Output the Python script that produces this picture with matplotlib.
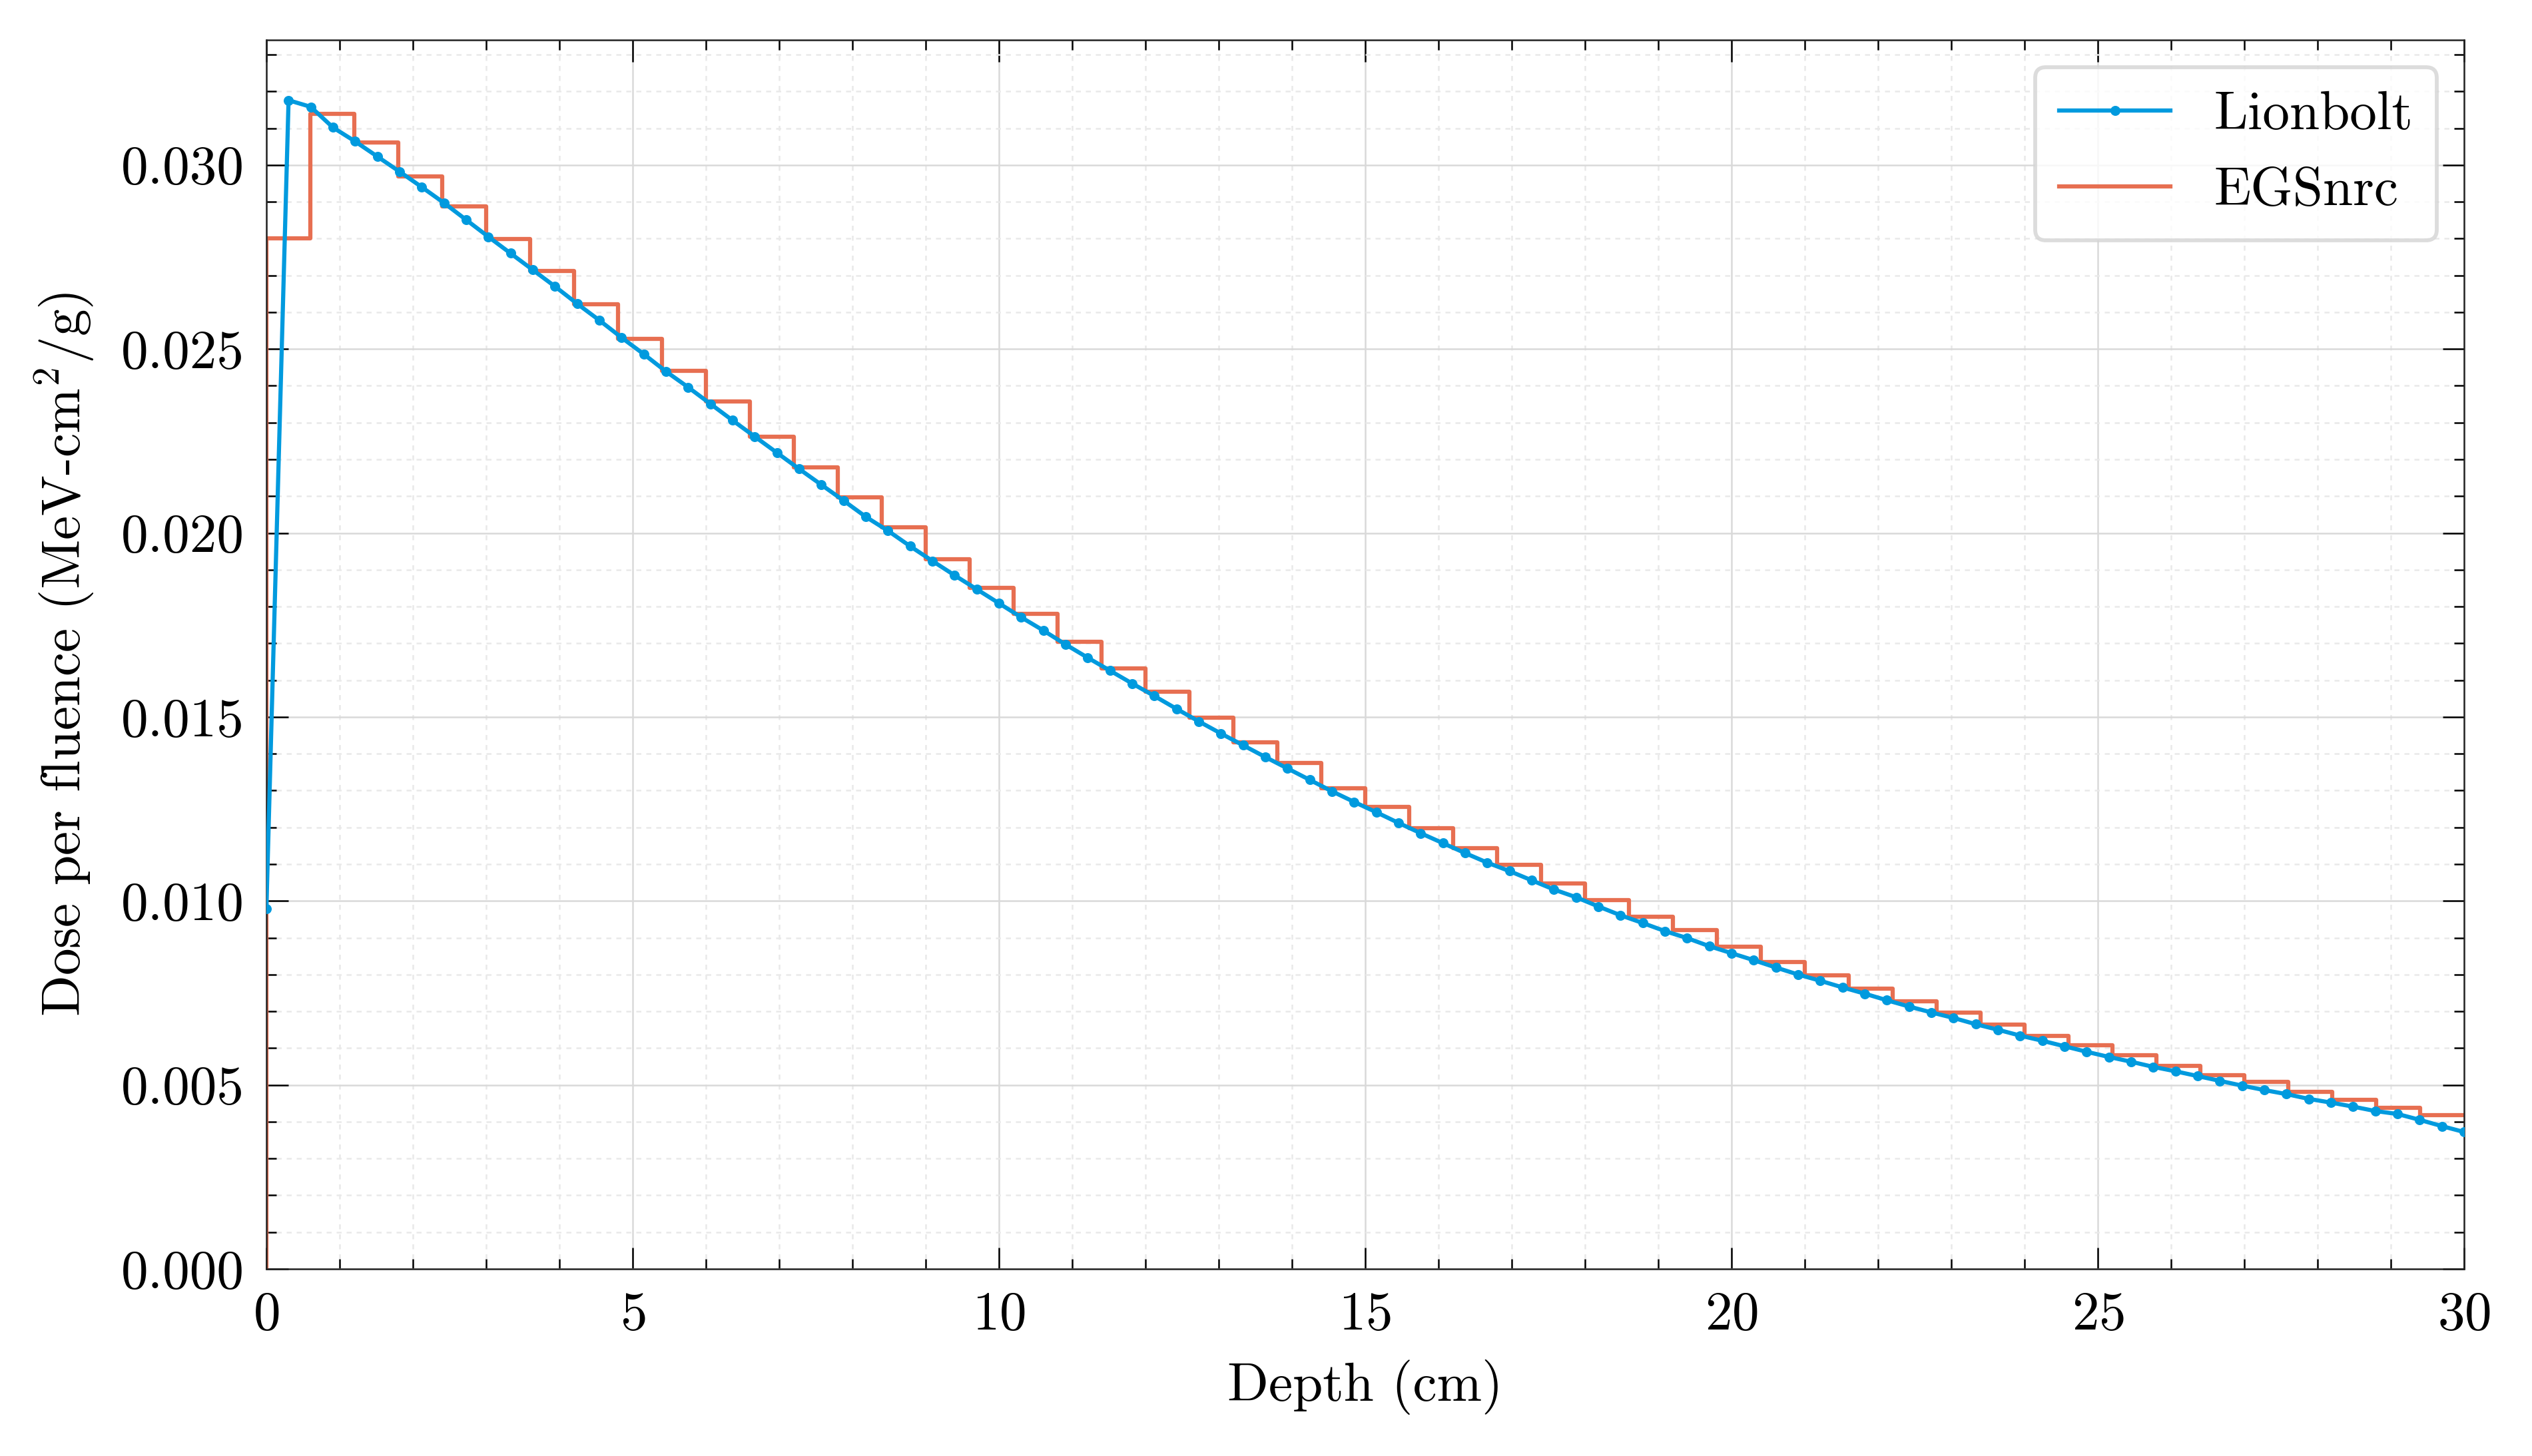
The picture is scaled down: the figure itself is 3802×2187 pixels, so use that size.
import numpy as np
import matplotlib
matplotlib.use("Agg")
import matplotlib.pyplot as plt

# Fonts: Computer Modern look (LaTeX style)
plt.rcParams['font.family'] = ['cmr10', 'DejaVu Serif']
plt.rcParams['mathtext.fontset'] = 'cm'
plt.rcParams['axes.unicode_minus'] = False
plt.rcParams['axes.formatter.use_mathtext'] = True
plt.rcParams['font.size'] = 19.5

# Data
lionbolt_depth = np.linspace(0, 30, 100)
lionbolt_dose = [
    0.00978, 0.03176, 0.03158, 0.03102, 0.03064, 0.03023, 0.02982, 0.02940, 0.02897, 0.02851,
    0.02805, 0.02760, 0.02715, 0.02670, 0.02623, 0.02578, 0.02531, 0.02486, 0.02439, 0.02396,
    0.02351, 0.02306, 0.02262, 0.02218, 0.02174, 0.02131, 0.02088, 0.02044, 0.02006, 0.01964,
    0.01924, 0.01885, 0.01847, 0.01809, 0.01771, 0.01735, 0.01697, 0.01661, 0.01626, 0.01591,
    0.01557, 0.01522, 0.01488, 0.01455, 0.01423, 0.01391, 0.01360, 0.01329, 0.01298, 0.01269,
    0.01241, 0.01212, 0.01184, 0.01157, 0.01130, 0.01104, 0.01081, 0.01056, 0.01031, 0.01010,
    0.00985, 0.00961, 0.00940, 0.00918, 0.00899, 0.00877, 0.00858, 0.00839, 0.00819, 0.00800,
    0.00783, 0.00765, 0.00748, 0.00730, 0.00713, 0.00697, 0.00682, 0.00665, 0.00650, 0.00634,
    0.00620, 0.00605, 0.00590, 0.00576, 0.00563, 0.00549, 0.00537, 0.00524, 0.00511, 0.00498,
    0.00486, 0.00475, 0.00462, 0.00452, 0.00441, 0.00429, 0.00421, 0.00405, 0.00388, 0.00372,
]

egs_edges = np.linspace(0, 30, 51)
egs_dose = [
    0.02800, 0.03139, 0.03061, 0.02969, 0.02888, 0.02798, 0.02712, 0.02622, 0.02528, 0.02441,
    0.02357, 0.02261, 0.02179, 0.02096, 0.02015, 0.01929, 0.01851, 0.01781, 0.01705, 0.01632,
    0.01569, 0.01498, 0.01431, 0.01375, 0.01306, 0.01255, 0.01197, 0.01143, 0.01098, 0.01047,
    0.01002, 0.00957, 0.00921, 0.00876, 0.00834, 0.00798, 0.00762, 0.00727, 0.00696, 0.00664,
    0.00633, 0.00608, 0.00580, 0.00551, 0.00527, 0.00509, 0.00482, 0.00459, 0.00437, 0.00417,
]

BLUE = '#009ADE'
RED = '#E76F51'

fig = plt.figure(figsize=(3802 / 300, 2187 / 300), dpi=300)
fig.subplots_adjust(left=0.1052, right=0.9732, top=0.9726, bottom=0.1285)
ax = fig.add_subplot(111)

# EGSnrc histogram as steps (starts from zero at the surface)
step_x = np.concatenate([[0.0], egs_edges])
step_y = np.concatenate([[0.0], egs_dose, [egs_dose[-1]]])
ax.step(step_x, step_y, where='post', color=RED, linewidth=1.5, label='EGSnrc', zorder=2)

ax.plot(lionbolt_depth, lionbolt_dose, '-o', color=BLUE, linewidth=1.5, markersize=2.6,
        label='Lionbolt', zorder=3)

ax.set_xlim(0, 30)
ax.set_ylim(0, 0.0334)
ax.set_xticks(np.arange(0, 31, 5))
ax.set_xticks(np.arange(0, 31, 1), minor=True)
ax.set_yticks(np.arange(0, 0.0301, 0.005))
ax.set_yticks(np.arange(0, 0.0334, 0.001), minor=True)
ax.yaxis.set_major_formatter(matplotlib.ticker.FormatStrFormatter('%.3f'))

ax.tick_params(which='both', direction='in', top=True, right=True, width=0.6, pad=8)
ax.tick_params(which='major', length=7.8)
ax.tick_params(which='minor', length=3.7)
for spine in ax.spines.values():
    spine.set_linewidth(0.6)
    spine.set_color('#222222')

ax.set_axisbelow(True)
ax.grid(which='major', color='#d9d9d9', linewidth=0.6, linestyle='-')
ax.grid(which='minor', color='#e9e9e9', linewidth=0.6, linestyle=(0, (3, 3)))

ax.set_xlabel('Depth (cm)', labelpad=7)
ax.set_ylabel('Dose per fluence (MeV-cm$^2$/g)', labelpad=9)

handles, labels = ax.get_legend_handles_labels()
leg = ax.legend(handles[::-1], labels[::-1], loc='upper right', fancybox=True,
                framealpha=0.8, edgecolor='#d4d4d4', borderpad=0.45, handlelength=2.05)
leg.get_frame().set_linewidth(1.4)

fig.savefig('out.png', dpi=300)
